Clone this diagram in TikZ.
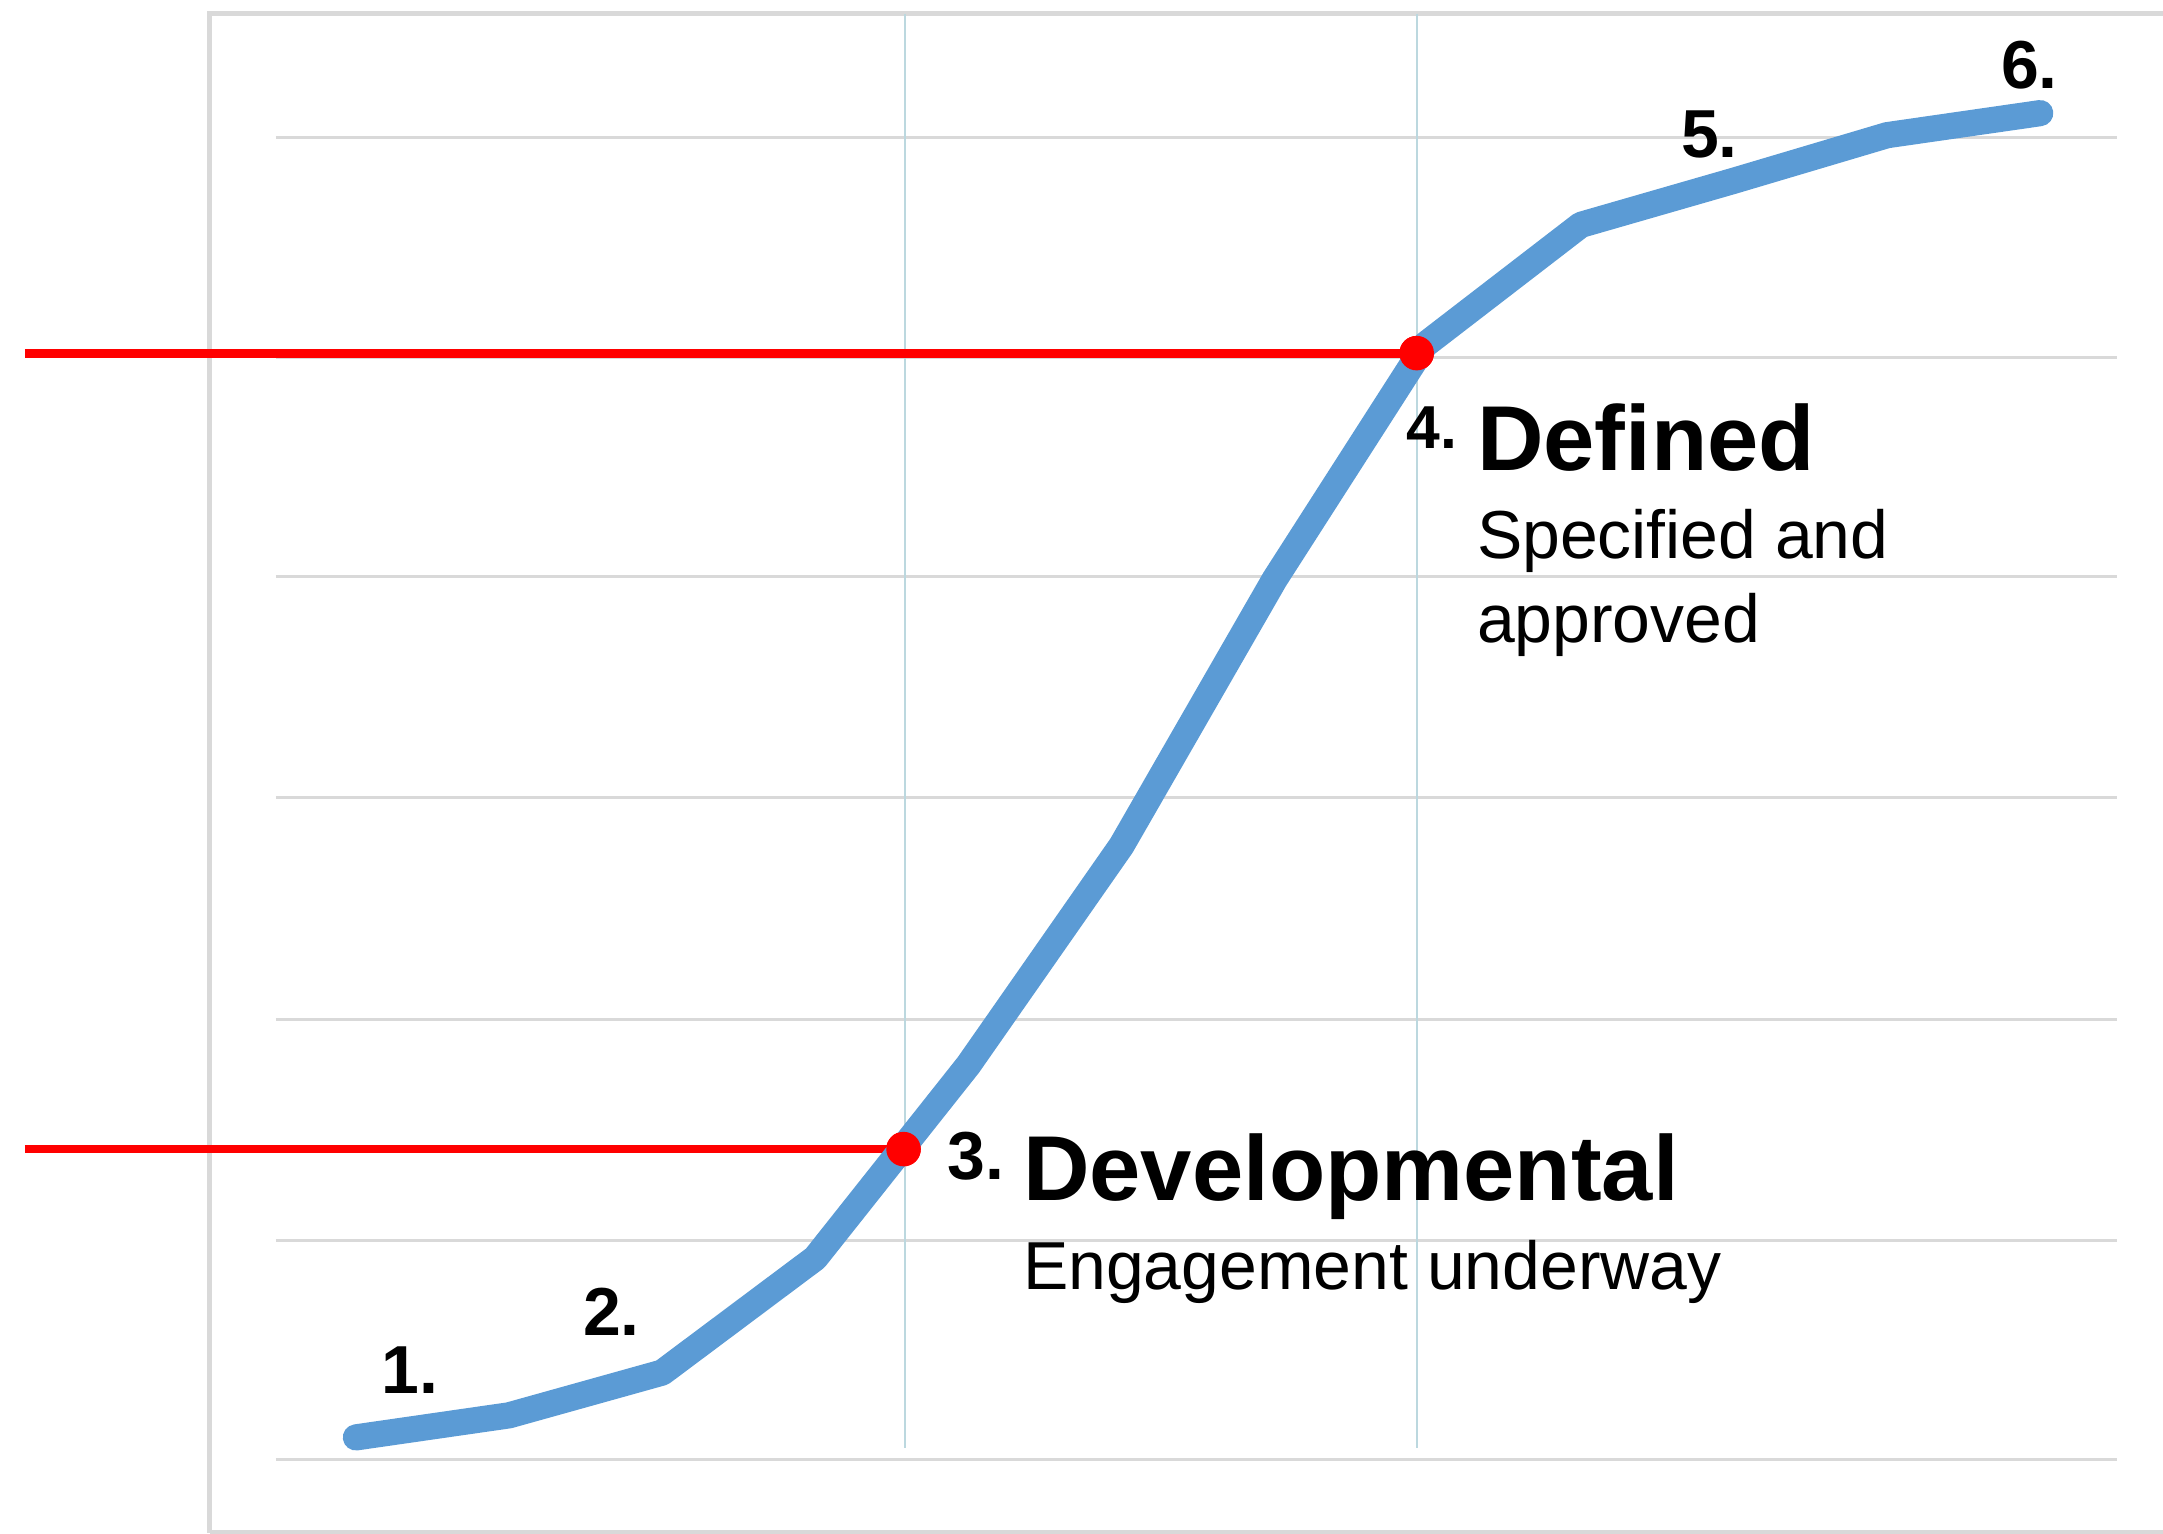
\documentclass[tikz,border=0pt]{standalone}
\usepackage{fontspec}
\setmainfont{Liberation Sans}
\usetikzlibrary{positioning}
\definecolor{curveblue}{HTML}{5B9BD5}
\definecolor{gridgray}{HTML}{D9D9D9}
\definecolor{axisblue}{HTML}{BCD8DF}
\tikzset{
  frame/.style={draw=gridgray, line width=1pt},
  gridline/.style={draw=gridgray, line width=0.6pt},
  markline/.style={draw=axisblue, line width=0.35pt},
  level/.style={draw=red, line width=1.8pt},
  growth/.style={draw=curveblue, line width=5.4pt, line cap=round, line join=round},
  dot/.style={circle, fill=red, inner sep=0pt, minimum size=0.25cm},
  stage/.style={font=\bfseries\fontsize{14}{14}\selectfont, inner sep=0pt, anchor=base west},
  title/.style={font=\bfseries\fontsize{19}{19}\selectfont, inner sep=0pt, anchor=base west},
  note/.style={font=\fontsize{14}{14}\selectfont, inner sep=0pt, anchor=base west}
}
\begin{document}
\begin{tikzpicture}[x=0.01cm, y=-0.01cm]
  \useasboundingbox (0,0) rectangle (1568,1112);
  % chart frame and grid
  \draw[frame] (152,1111) -- (152,10) -- (1568,10);
  \draw[frame] (152,1111) -- (1568,1111);
  \foreach \gy in {100,259,418,578,739,899,1058}
    \draw[gridline] (200,\gy) -- (1535,\gy);
  \draw[markline] (656,10) -- (656,1050);
  \draw[markline] (1027,10) -- (1027,1050);
  % levels
  \coordinate (l3) at (18,833);
  \coordinate (l4) at (18,256);
  \node[dot] (d3) at (655,833) {};
  \node[dot] (d4) at (1027,256) {};
  \draw[level] (l3) -- (d3.center);
  \draw[level] (l4) -- (d4.center);
  % maturity curve
  \draw[growth] plot coordinates {(258,1042) (369,1026) (480,995) (591,912)
    (702,772) (813,613) (924,420) (1033,250) (1146,163) (1257,131)
    (1368,98) (1479,82)};
  \node[dot] at (d3) {};
  \node[dot] at (d4) {};
  % labels
  \node[stage] (n1) at (276,1010) {1.};
  \node[stage] (n2) at (422,968) {2.};
  \node[stage] (n3) at (686,855) {3.};
  \node[stage, font=\bfseries\fontsize{12.5}{12.5}\selectfont] (n4) at (1019,325) {4.};
  \node[stage] (n5) at (1218,114) {5.};
  \node[stage] (n6) at (1450,64) {6.};
  \node[title] (dev) at (741,870) {Developmental};
  \node[note] (eng) at (741,935) {Engagement underway};
  \node[title] (def) at (1070,341) {Defined};
  \node[note] (spec) at (1070,405) {Specified and};
  \node[note] (appr) at (1070,466) {approved};
\end{tikzpicture}
\end{document}
